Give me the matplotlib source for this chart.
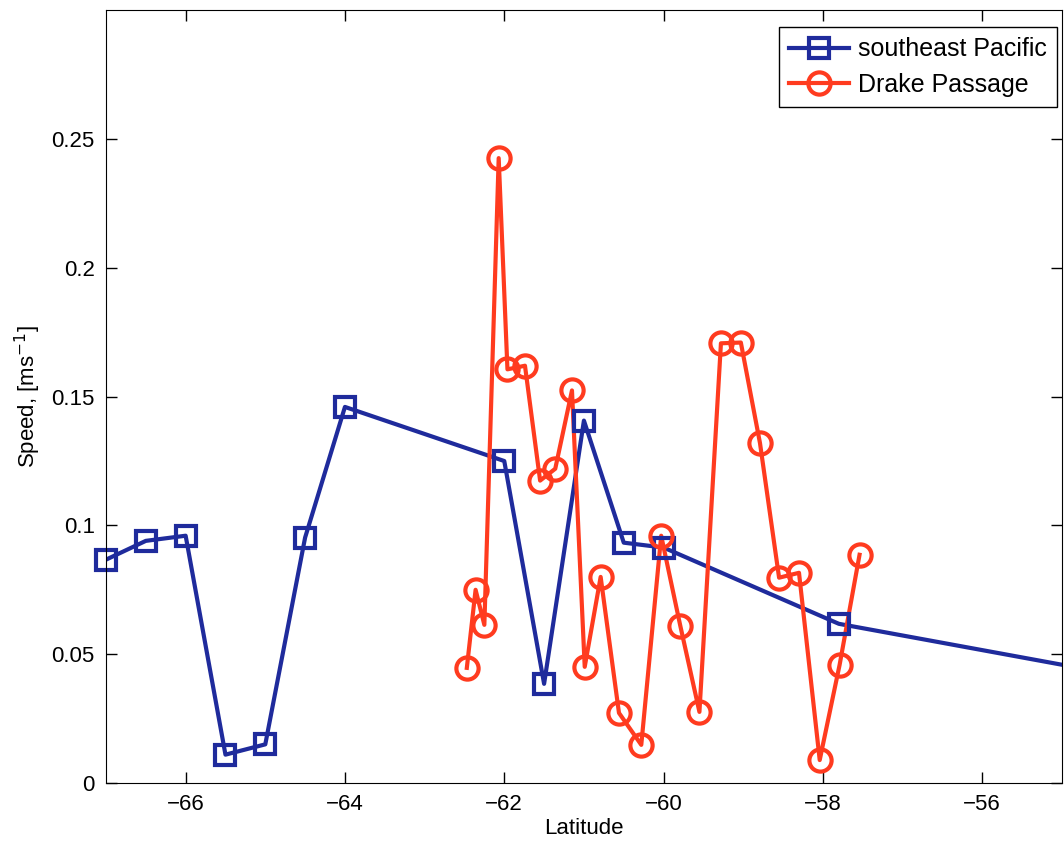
import numpy as np
import matplotlib.pyplot as plt
from matplotlib.ticker import FuncFormatter

plt.rcParams['font.family'] = ['Liberation Sans', 'DejaVu Sans']
plt.rcParams['axes.unicode_minus'] = True

# southeast Pacific
lat_sep = [-67.0, -66.5, -66.0, -65.5, -65.0, -64.5, -64.0, -62.0, -61.5, -61.0, -60.5, -60.0, -57.8, -53.5]
spd_sep = [0.0867, 0.094, 0.096, 0.011, 0.015, 0.0953, 0.146, 0.125, 0.0385, 0.1407, 0.0933, 0.0914, 0.0618, 0.0374]

# Drake Passage
lat_dp = [-62.47, -62.36, -62.25, -62.07, -61.96, -61.74, -61.55, -61.36, -61.15, -60.99, -60.79,
          -60.56, -60.28, -60.03, -59.79, -59.55, -59.28, -59.03, -58.79, -58.55, -58.30, -58.04,
          -57.79, -57.54]
spd_dp = [0.0447, 0.075, 0.0614, 0.2426, 0.1606, 0.162, 0.1174, 0.122, 0.1524, 0.0451, 0.080,
          0.0272, 0.0148, 0.096, 0.061, 0.0276, 0.1707, 0.171, 0.132, 0.0797, 0.0816, 0.0089,
          0.0459, 0.0886]

blue = '#1f2b9c'
red = '#ff3b1f'
lw = 3.0

fig = plt.figure(figsize=(10.64, 8.56), dpi=100)
ax = fig.add_axes([0.0996, 0.0853, 0.8984, 0.9027])

ax.plot(lat_sep, spd_sep, '-', color=blue, lw=lw)
ax.plot(lat_dp, spd_dp, '-', color=red, lw=lw)
# markers drawn unclipped, like MATLAB
ax.plot(lat_sep[:-1], spd_sep[:-1], 's', mfc='none', mec=blue, ms=14, mew=lw, clip_on=False)
ax.plot(lat_dp, spd_dp, 'o', mfc='none', mec=red, ms=16, mew=lw, clip_on=False)

# legend handles
h1, = ax.plot([], [], '-s', color=blue, mfc='none', mec=blue, ms=14, mew=lw, lw=lw, label='southeast Pacific')
h2, = ax.plot([], [], '-o', color=red, mfc='none', mec=red, ms=16, mew=lw, lw=lw, label='Drake Passage')

ax.set_xlim(-67, -55)
ax.set_ylim(0, 0.3)
ax.set_xticks([-66, -64, -62, -60, -58, -56])
ax.set_yticks([0, 0.05, 0.1, 0.15, 0.2, 0.25])
ax.yaxis.set_major_formatter(FuncFormatter(lambda v, p: '0' if v == 0 else ('%g' % v)))
ax.tick_params(direction='in', length=8, width=1, top=True, right=True, labelsize=16, pad=8)

ax.set_xlabel('Latitude', fontsize=16, labelpad=2)
ax.set_ylabel('Speed, [ms$^{-1}$]', fontsize=16, labelpad=6)

leg = ax.legend(handles=[h1, h2], loc='upper right', fontsize=18, fancybox=False,
                edgecolor='black', framealpha=1, handlelength=2.4, borderpad=0.4,
                borderaxespad=0, labelspacing=0.45, handletextpad=0.35,
                bbox_to_anchor=(0.9948, 0.978))
leg.get_frame().set_linewidth(1)

fig.savefig('out.png', dpi=100)
